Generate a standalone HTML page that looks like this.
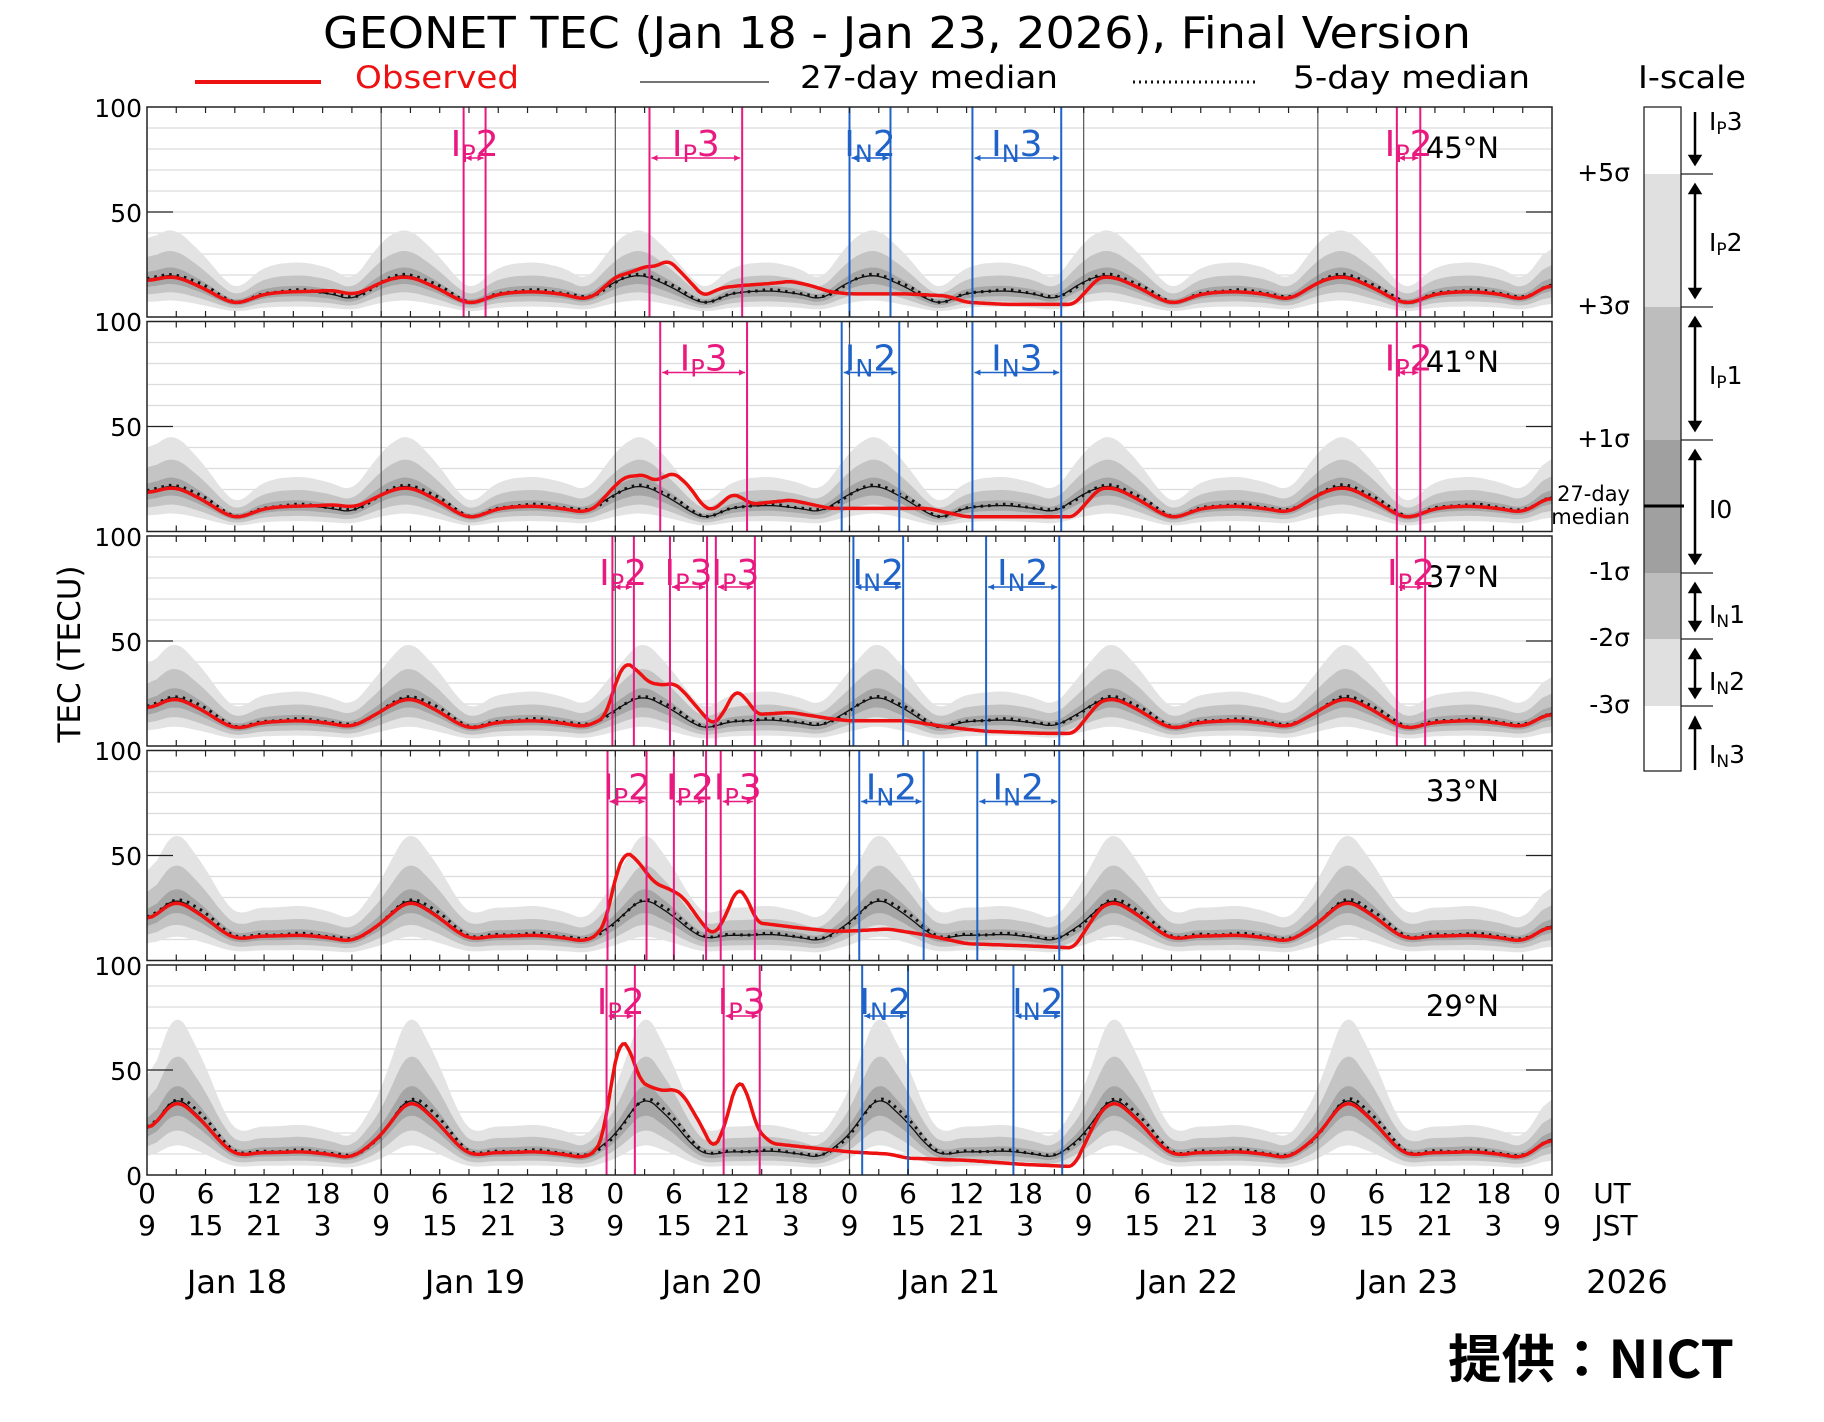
<!DOCTYPE html>
<html><head><meta charset="utf-8"><style>
html,body{margin:0;padding:0;background:#fff;}
svg{display:block;font-family:"DejaVu Sans","Liberation Sans",sans-serif;}
</style></head><body>
<svg id="s" width="1824" height="1422" viewBox="0 0 1824 1422" xmlns="http://www.w3.org/2000/svg">
<rect width="1824" height="1422" fill="#fff"/>
<g id="plots"></g>
<text x="897" y="48" font-size="44" text-anchor="middle" textLength="1148" lengthAdjust="spacingAndGlyphs">GEONET TEC (Jan 18 - Jan 23, 2026), Final Version</text>
<line x1="195" y1="82" x2="321" y2="82" stroke="#ee1111" stroke-width="4"/>
<text x="355" y="88" font-size="31" fill="#ee1111" textLength="164" lengthAdjust="spacingAndGlyphs">Observed</text>
<line x1="640" y1="82" x2="769" y2="82" stroke="#222" stroke-width="1.2"/>
<text x="800" y="88" font-size="31" textLength="258" lengthAdjust="spacingAndGlyphs">27-day median</text>
<line x1="1133" y1="82" x2="1258" y2="82" stroke="#111" stroke-width="3" stroke-dasharray="2 4"/>
<text x="1293" y="88" font-size="31" textLength="237" lengthAdjust="spacingAndGlyphs">5-day median</text>
<text x="1638" y="88" font-size="31" textLength="108" lengthAdjust="spacingAndGlyphs">I-scale</text>
<text transform="translate(80,654) rotate(-90)" font-size="31" text-anchor="middle">TEC (TECU)</text>
<g font-size="28" text-anchor="middle" id="xt"></g>
<text x="1612" y="1203" font-size="28" text-anchor="middle">UT</text>
<text x="1616" y="1235" font-size="28" text-anchor="middle">JST</text>
<g font-size="32" text-anchor="middle">
<text x="237" y="1293">Jan 18</text><text x="475" y="1293">Jan 19</text><text x="712" y="1293">Jan 20</text>
<text x="950" y="1293">Jan 21</text><text x="1188" y="1293">Jan 22</text><text x="1408" y="1293">Jan 23</text>
<text x="1627" y="1293">2026</text></g>
<text x="1448" y="1378" font-size="52" font-weight="bold" font-family="'Noto Sans CJK JP','WenQuanYi Zen Hei',sans-serif" textLength="286" lengthAdjust="spacingAndGlyphs">提供：NICT</text>
<g>
<rect x="1644" y="174" width="37" height="133" fill="#e0e0e0"/>
<rect x="1644" y="307" width="37" height="133" fill="#bdbdbd"/>
<rect x="1644" y="440" width="37" height="133" fill="#a0a0a0"/>
<rect x="1644" y="573" width="37" height="66" fill="#bdbdbd"/>
<rect x="1644" y="639" width="37" height="67" fill="#e0e0e0"/>
<rect x="1644" y="107" width="37" height="664" fill="none" stroke="#222" stroke-width="1.3"/>
<line x1="1644" y1="506" x2="1684" y2="506" stroke="#000" stroke-width="3"/>
<g stroke="#222" stroke-width="1.2">
<line x1="1681" y1="174" x2="1713" y2="174"/><line x1="1681" y1="307" x2="1713" y2="307"/>
<line x1="1681" y1="440" x2="1713" y2="440"/><line x1="1681" y1="573" x2="1713" y2="573"/>
<line x1="1681" y1="639" x2="1713" y2="639"/><line x1="1681" y1="706" x2="1713" y2="706"/></g>
<g id="iarr" stroke="#000" stroke-width="2.5" fill="#000"></g>
<g font-size="25" text-anchor="end">
<text x="1630" y="181">+5σ</text><text x="1630" y="314">+3σ</text><text x="1630" y="447">+1σ</text>
<text x="1630" y="580">-1σ</text><text x="1630" y="646">-2σ</text><text x="1630" y="713">-3σ</text>
<text x="1630" y="501" font-size="21">27-day</text><text x="1630" y="524" font-size="21">median</text></g>
<g font-size="25">
<text x="1709" y="130">I<tspan font-size="17" dy="4">P</tspan><tspan dy="-4">3</tspan></text>
<text x="1709" y="251">I<tspan font-size="17" dy="4">P</tspan><tspan dy="-4">2</tspan></text>
<text x="1709" y="384">I<tspan font-size="17" dy="4">P</tspan><tspan dy="-4">1</tspan></text>
<text x="1709" y="518">I0</text>
<text x="1709" y="623">I<tspan font-size="17" dy="4">N</tspan><tspan dy="-4">1</tspan></text>
<text x="1709" y="690">I<tspan font-size="17" dy="4">N</tspan><tspan dy="-4">2</tspan></text>
<text x="1709" y="763">I<tspan font-size="17" dy="4">N</tspan><tspan dy="-4">3</tspan></text></g>
</g>
<g id="ylab" font-size="25" text-anchor="end">
<text x="142" y="117">100</text><text x="142" y="222">50</text>
<text x="142" y="331">100</text><text x="142" y="436">50</text>
<text x="142" y="546">100</text><text x="142" y="651">50</text>
<text x="142" y="760">100</text><text x="142" y="865">50</text>
<text x="142" y="975">100</text><text x="142" y="1080">50</text><text x="142" y="1185">0</text>
</g>
<g font-size="29" text-anchor="end">
<text x="1499" y="158">45°N</text><text x="1499" y="372">41°N</text><text x="1499" y="587">37°N</text>
<text x="1499" y="801">33°N</text><text x="1499" y="1016">29°N</text></g>
<g id="evlab" font-size="36" text-anchor="middle"></g>
</svg>
<script>
(function(){
var NS="http://www.w3.org/2000/svg";
var X0=147,X1=1552,W=X1-X0,PH=210,tops=[107,321.5,536,750.5,965];
function X(t){return X0+t*W/144;}
function el(tag,attrs,parent){var e=document.createElementNS(NS,tag);for(var k in attrs)e.setAttribute(k,attrs[k]);parent.appendChild(e);return e;}
function lerp(keys,x){if(x<=keys[0][0])return keys[0][1];for(var i=1;i<keys.length;i++){if(x<=keys[i][0]){var a=keys[i-1],b=keys[i];return a[1]+(b[1]-a[1])*(x-a[0])/(b[0]-a[0]);}}return keys[keys.length-1][1];}
var params=[{Z:17,P:20,Mn:6,N:12,D:8},{Z:18,P:22,Mn:6,N:12,D:9},{Z:17,P:24,Mn:8,N:12,D:9},{Z:18,P:30,Mn:10,N:12,D:9},{Z:19,P:38,Mn:9,N:11,D:8}];
var obsK=[
[[46,null],[48,19],[50,22],[51,24],[52,24],[53.5,27],[55,20],[57,10],[59,14],[61,15],[64,16],[66,17],[68,15],[70,12],[72,11],[78,11],[82,10],[84,7],[88,6],[95,6],[97.5,null]],
[[46,null],[48,22],[49,26],[51,27],[52,24],[54,28],[55.5,22],[57,12],[58,10],[60,18],[61,16],[62,13],[64,14],[66,15],[68,13],[70,11],[72,11],[80,11],[84,7],[88,7],[95,7],[97.5,null]],
[[46,null],[47,14],[48,30],[49,40],[50,37],[51.5,30],[53,29],[54,30],[55,26],[57,15],[58,10],[59,15],[60.3,27],[61.5,22],[62.5,15],[66,16],[70,13],[72,12],[78,12],[82,9],[86,7],[92,6],[95,6],[97.5,null]],
[[46,null],[47,18],[48,40],[49,52],[50,49],[52,37],[54,33],[55,30],[57,17],[58,12],[59,18],[60.5,35],[61.5,30],[62.5,18],[66,16],[70,14],[72,14],[76,15],[80,12],[84,8],[90,7],[95,6],[97.5,null]],
[[46,null],[46.8,19],[47.6,45],[48.5,65],[49.5,60],[50.5,45],[51.5,42],[53,40],[54,41],[55,38],[57,22],[58,12],[59,20],[60.5,46],[61.5,40],[62.5,22],[64,15],[66,14],[70,12],[72,11],[76,10],[78,8],[84,7],[90,5],[95,4],[97.5,null]]];
var ev=[
[["p",32.45,34.7,"P2"],["p",51.5,61.0,"P3"],["b",72.0,76.2,"N2"],["b",84.6,93.7,"N3"],["p",128.1,130.5,"P2"]],
[["p",52.6,61.5,"P3"],["b",71.2,77.1,"N2"],["b",84.6,93.7,"N3"],["p",128.1,130.5,"P2"]],
[["p",47.7,49.9,"P2"],["p",53.6,57.4,"P3"],["p",58.3,62.3,"P3"],["b",72.4,77.5,"N2"],["b",86.0,93.5,"N2"],["p",128.1,131.0,"P2"]],
[["p",47.2,51.2,"P2"],["p",54.0,57.3,"P2"],["p",58.8,62.3,"P3"],["b",73.0,79.6,"N2"],["b",85.1,93.5,"N2"]],
[["p",47.1,50.0,"P2"],["p",59.1,62.8,"P3"],["b",73.3,78.0,"N2"],["b",88.8,93.8,"N2"]]];
var g=document.getElementById("plots"),lg=document.getElementById("evlab");
var N=577,dt=144/(N-1);
for(var p=0;p<5;p++){
 var pr=params[p],top=tops[p],bot=top+PH;
 function Y(v){v=Math.max(0,Math.min(100,v));return bot-v*PH/100;}
 var K=[[0,pr.Z],[1.5,(pr.Z+pr.P)/2+1],[3,pr.P],[6,pr.Mn+0.55*(pr.P-pr.Mn)],[8,pr.Mn+0.15*(pr.P-pr.Mn)],[9.5,pr.Mn],[11,(pr.Mn+pr.N)/2+1],[13,pr.N],[16,pr.N+0.5],[19,pr.N-1],[21,pr.D],[22.5,(pr.D+pr.Z)/2],[24,pr.Z]];
 var raw=[],m=[],d5=[],ob=[];
 for(var i=0;i<N;i++){var t=i*dt;raw.push(lerp(K,t%24));}
 for(var i=0;i<N;i++){var s=0,c=0;for(var j=-4;j<=4;j++){var k=i+j;if(k>=0&&k<N){s+=raw[k];c++;}}m.push(s/c);}
 for(var i=0;i<N;i++){var t=i*dt;d5.push(m[Math.max(0,i-1)]*1.03+0.3*Math.sin(t*1.3));
  var ok=obsK[p],v;
  if(t>ok[0][0]&&t<ok[ok.length-1][0]){var kk=ok.map(function(q){return [q[0],q[1]===null?m[Math.round(q[0]/dt)]*0.97:q[1]];});v=lerp(kk,t);}
  else{v=m[i]*0.97;if(p<2)v+=2.5*Math.exp(-Math.pow((t-20)/2.5,2));}
  ob.push(v);}
 var obs=[];for(var i=0;i<N;i++){var s=0,c=0;for(var j=-2;j<=2;j++){var k=i+j;if(k>=0&&k<N){s+=ob[k];c++;}}obs.push(s/c);}
 var cid="c"+p;var cp=el("clipPath",{id:cid},g);el("rect",{x:X0,y:top,width:W,height:PH},cp);
 var pg=el("g",{"clip-path":"url(#"+cid+")"},g);
 for(var v=10;v<100;v+=10)el("line",{x1:X0,x2:X1,y1:Y(v),y2:Y(v),stroke:"#dcdcdc","stroke-width":1.3},pg);
 function band(up,lo,col){var d="M";for(var i=0;i<N;i++)d+=X(i*dt).toFixed(1)+","+Y(m[i]+up*0.2*m[i]).toFixed(1)+" L";for(var i=N-1;i>=0;i--)d+=X(i*dt).toFixed(1)+","+Y(m[i]-lo*0.2*m[i]).toFixed(1)+(i?" L":" Z");el("path",{d:d,fill:col},pg);}
 band(5.5,3,"#e3e3e3");band(3,2,"#c4c4c4");band(1,1,"#a6a6a6");
 function line(arr,attrs){var d="M";for(var i=0;i<N;i++)d+=X(i*dt).toFixed(1)+","+Y(arr[i]).toFixed(1)+(i<N-1?" L":"");attrs.d=d;attrs.fill="none";el("path",attrs,pg);}
 for(var dd=1;dd<6;dd++)el("line",{x1:X(dd*24),x2:X(dd*24),y1:top,y2:bot,stroke:"#555","stroke-width":1.2},pg);
 line(m,{stroke:"#111","stroke-width":1.3});
 line(d5,{stroke:"#111","stroke-width":3,"stroke-dasharray":"2.5 5"});
 line(obs,{stroke:"#ee1111","stroke-width":3.5});
 var ee=ev[p];
 for(var q=0;q<ee.length;q++){var e=ee[q],col=e[0]=="p"?"#e8197f":"#1f63c8",xa=X(e[1]),xb=X(e[2]);
  el("line",{x1:xa,x2:xa,y1:top,y2:bot,stroke:col,"stroke-width":2},g);
  el("line",{x1:xb,x2:xb,y1:top,y2:bot,stroke:col,"stroke-width":2},g);
  var ay=top+51;el("line",{x1:xa+2,x2:xb-2,y1:ay,y2:ay,stroke:col,"stroke-width":1.5},g);
  el("path",{d:"M"+(xa+2)+","+ay+" l6,-3 l0,6 Z M"+(xb-2)+","+ay+" l-6,-3 l0,6 Z",fill:col},g);
  var tx=el("text",{x:(xa+xb)/2,y:top+49,fill:col},lg);tx.appendChild(document.createTextNode("I"));
  var s1=el("tspan",{"font-size":24,dy:6},tx);s1.textContent=e[3][0];
  var s2=el("tspan",{dy:-6},tx);s2.textContent=e[3][1];}
 el("rect",{x:X0,y:top,width:W,height:PH,fill:"none",stroke:"#222","stroke-width":1.5},g);
 for(var h=3;h<144;h+=3){el("line",{x1:X(h),x2:X(h),y1:top,y2:top+6,stroke:"#222","stroke-width":1.2},g);el("line",{x1:X(h),x2:X(h),y1:bot,y2:bot-6,stroke:"#222","stroke-width":1.2},g);}
 el("line",{x1:X0,x2:X0+26,y1:top+105,y2:top+105,stroke:"#222","stroke-width":1.2},g);
 el("line",{x1:X1,x2:X1-26,y1:top+105,y2:top+105,stroke:"#222","stroke-width":1.2},g);
}
var xt=document.getElementById("xt");
for(var k=0;k<=24;k++){var h=(6*k)%24,x=X(6*k);
 var a=el("text",{x:x,y:1203},xt);a.textContent=String(h);
 var b=el("text",{x:x,y:1235},xt);b.textContent=String((h+9)%24);}
var ia=document.getElementById("iarr");
function arr(y1,y2,two){el("line",{x1:1695,x2:1695,y1:y1,y2:y2},ia);el("path",{d:"M1690,"+(y2-8)+" L1700,"+(y2-8)+" L1695,"+y2+" Z"},ia);if(two)el("path",{d:"M1690,"+(y1+8)+" L1700,"+(y1+8)+" L1695,"+y1+" Z"},ia);}
arr(112,164,false);arr(185,297,true);arr(318,430,true);arr(451,563,true);arr(584,630,true);arr(650,697,true);
el("line",{x1:1695,x2:1695,y1:720,y2:770},ia);el("path",{d:"M1690,728 L1700,728 L1695,718 Z"},ia);
})();
</script>
</body></html>
